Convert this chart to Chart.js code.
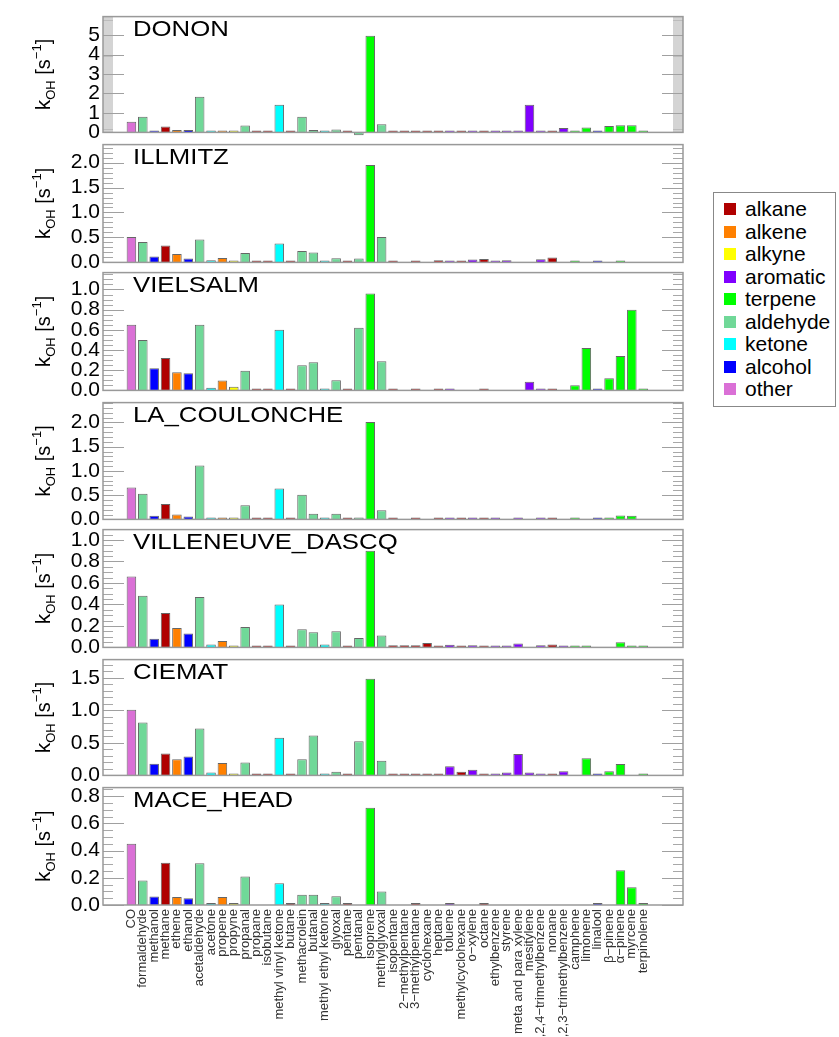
<!DOCTYPE html>
<html>
<head>
<meta charset="utf-8">
<script src="https://cdn.jsdelivr.net/npm/chart.js@4.4.1/dist/chart.umd.min.js"></script>
<style>
  body { margin: 0; background: #fff; width: 839px; height: 1037px; position: relative; overflow: hidden;
         font-family: "Liberation Sans", Arial, sans-serif; }
  canvas { position: absolute; left: 0; }
  #legend { position: absolute; left: 713px; top: 192px; width: 123px; height: 215px;
            border: 1px solid #888; box-sizing: border-box; padding-top: 5px; }
  .item { height: 22.5px; display: flex; align-items: center; font-size: 21px; color: #000; }
  .sw { width: 12px; height: 12px; margin: 0 9px 0 10px; }
</style>
</head>
<body>
<div id="legend"></div>
<script>
// species on the x axis
const categories = ["CO", "formaldehyde", "methanol", "methane", "ethene", "ethanol", "acetaldehyde",
  "acetone", "propene", "propyne", "propanal", "propane", "isobutane", "methyl vinyl ketone", "butane",
  "methacrolein", "butanal", "methyl ethyl ketone", "glyoxal", "pentane", "pentanal", "isoprene",
  "methylglyoxal", "isopentane", "2\u2212methylpentane", "3\u2212methylpentane", "cyclohexane", "heptane",
  "toluene", "methylcyclohexane", "o\u2212xylene", "octane", "ethylbenzene", "styrene",
  "meta and para xylene", "mesitylene", "1,2,4\u2212trimethylbenzene", "nonane",
  "1,2,3\u2212trimethylbenzene", "camphene", "limonene", "linalool", "\u03b2\u2212pinene",
  "\u03b1\u2212pinene", "myrcene", "terpinolene"];

const categoryGroup = ["other", "aldehyde", "alcohol", "alkane", "alkene", "alcohol", "aldehyde",
  "ketone", "alkene", "alkyne", "aldehyde", "alkane", "alkane", "ketone", "alkane",
  "aldehyde", "aldehyde", "ketone", "aldehyde", "alkane", "aldehyde", "terpene",
  "aldehyde", "alkane", "alkane", "alkane", "alkane", "alkane",
  "aromatic", "alkane", "aromatic", "alkane", "aromatic", "aromatic",
  "aromatic", "aromatic", "aromatic", "alkane",
  "aromatic", "terpene", "terpene", "alcohol", "terpene",
  "terpene", "terpene", "terpene"];

const groupNames = ["alkane", "alkene", "alkyne", "aromatic", "terpene", "aldehyde", "ketone", "alcohol", "other"];
const groupColors = ["#b00000", "#ff8000", "#ffff00", "#8000ff", "#00ff00", "#70d898", "#00ffff", "#0000ff", "#da70d6"];

const sites = ["DONON", "ILLMITZ", "VIELSALM", "LA_COULONCHE", "VILLENEUVE_DASCQ", "CIEMAT", "MACE_HEAD"];

// kOH [s-1] per species
const donon = [0.55, 0.80, 0.08, 0.30, 0.12, 0.12, 1.83, 0.03, 0.03, 0.02, 0.35, 0.01, 0.01, 1.42, 0.01,
  0.80, 0.12, 0.05, 0.15, 0.02, -0.15, 4.97, 0.42, 0.02, 0.02, 0.02, 0.02, 0.02, 0.02, 0.02, 0.02, 0.02,
  0.02, 0.02, 0.03, 1.42, 0.02, 0.02, 0.22, 0.02, 0.25, 0.01, 0.33, 0.37, 0.37, 0.02];
const illmitz = [0.51, 0.41, 0.12, 0.34, 0.17, 0.08, 0.46, 0.045, 0.09, 0.04, 0.19, 0.013, 0.013, 0.38, 0.013,
  0.23, 0.20, 0.03, 0.085, 0.03, 0.08, 1.95, 0.51, 0.01, null, 0.01, null, 0.045, 0.01, 0.01, 0.06, 0.07,
  0.01, 0.045, null, null, 0.065, 0.10, null, 0.02, null, 0.02, null, 0.01, null, null];
const vielsalm = [0.65, 0.50, 0.22, 0.32, 0.18, 0.17, 0.65, 0.026, 0.097, 0.036, 0.195, 0.006, 0.006, 0.60, 0.006,
  0.25, 0.28, 0.016, 0.10, 0.006, 0.62, 0.96, 0.29, 0.005, null, 0.006, null, 0.006, 0.006, null, null, 0.008,
  null, null, null, 0.085, 0.005, 0.006, null, 0.05, 0.42, 0.005, 0.12, 0.34, 0.80, 0.016];
const laCoulonche = [0.66, 0.53, 0.075, 0.32, 0.10, 0.06, 1.11, 0.027, 0.04, 0.027, 0.29, 0.02, 0.02, 0.64, 0.013,
  0.51, 0.115, 0.04, 0.115, 0.013, 0.005, 2.01, 0.19, 0.01, null, 0.01, null, 0.01, 0.01, 0.015, 0.01, 0.01,
  0.01, null, 0.01, null, 0.01, 0.01, null, 0.01, null, 0.01, 0.01, 0.08, 0.075, null];
const villeneuve = [0.66, 0.48, 0.08, 0.32, 0.18, 0.13, 0.47, 0.027, 0.06, 0.018, 0.19, 0.015, 0.015, 0.40, 0.015,
  0.17, 0.14, 0.027, 0.15, 0.015, 0.087, 0.90, 0.11, 0.02, 0.02, 0.02, 0.04, 0.015, 0.024, 0.018, 0.02, 0.018,
  0.015, 0.01, 0.036, null, 0.02, 0.027, 0.01, 0.01, 0.01, null, null, 0.048, 0.01, 0.01];
const ciemat = [1.01, 0.815, 0.18, 0.335, 0.25, 0.29, 0.72, 0.045, 0.19, 0.02, 0.20, 0.02, 0.025, 0.58, 0.025,
  0.25, 0.615, 0.025, 0.055, 0.02, 0.525, 1.485, 0.225, 0.025, 0.01, 0.025, 0.015, 0.015, 0.14, 0.055, 0.085, 0.02,
  0.03, 0.045, 0.33, 0.045, 0.02, 0.03, 0.065, null, 0.265, 0.025, 0.065, 0.175, null, 0.01];
const maceHead = [0.45, 0.18, 0.063, 0.31, 0.058, 0.05, 0.306, 0.014, 0.058, 0.007, 0.21, null, null, 0.16, 0.01,
  0.075, 0.075, 0.01, 0.065, 0.007, null, 0.715, 0.10, null, null, 0.01, null, null, 0.01, null, null, 0.007,
  null, null, null, null, null, null, null, null, null, 0.005, null, 0.255, 0.13, 0.01];

const siteValues = [donon, illmitz, vielsalm, laCoulonche, villeneuve, ciemat, maceHead];

// y axis per panel
const yMax = [5.95, 2.36, 1.167, 2.41, 1.097, 1.78, 0.863];
const yMajor = [1, 0.5, 0.2, 0.5, 0.2, 0.5, 0.2];
const yMinor = [0.05, 0.1, 0.05, 0.1, 0.05, 0.1, 0.05];
const yDecimals = [0, 1, 1, 1, 1, 1, 1];

// page layout: top / bottom of each plot frame
const frames = [[15, 134], [143, 264], [271, 392], [401, 521], [528, 649], [658, 777], [786, 905]];

Chart.defaults.font.family = '"Liberation Sans", Arial, sans-serif';

const barColors = categoryGroup.map(g => groupColors[groupNames.indexOf(g)]);

// frame, inner ticks, panel name and y title
const panelDeco = {
  id: 'panelDeco',
  afterDatasetsDraw(chart, args, opts) {
    const { ctx, chartArea: a } = chart;
    const y = chart.scales.y;
    ctx.save();
    ctx.lineWidth = 1;
    const n = Math.floor(y.max / opts.minor + 1e-6);
    const gap = Math.abs(y.getPixelForValue(0) - y.getPixelForValue(opts.minor));
    for (let k = 0; k <= n; k++) {
      const v = k * opts.minor;
      const py = Math.round(y.getPixelForValue(v)) + 0.5;
      const r = v / opts.major;
      const major = Math.abs(r - Math.round(r)) < 1e-6;
      const len = major ? 21 : 10;
      // very dense minor ticks blend into a light band
      ctx.strokeStyle = major ? '#a0a0a0' : (gap < 2 ? 'rgba(160,160,160,0.45)' : '#a8a8a8');
      ctx.beginPath();
      ctx.moveTo(a.left, py); ctx.lineTo(a.left + len, py);
      ctx.moveTo(a.right - len, py); ctx.lineTo(a.right, py);
      ctx.stroke();
    }
    ctx.strokeStyle = '#999';
    ctx.lineWidth = 1.5;
    ctx.strokeRect(a.left, a.top, a.right - a.left, a.bottom - a.top);

    // panel name
    ctx.fillStyle = '#000';
    ctx.font = '22px "Liberation Sans", Arial, sans-serif';
    ctx.textBaseline = 'alphabetic';
    ctx.save();
    ctx.translate(133, a.top + 19);
    ctx.scale(1.17, 1);
    ctx.fillText(opts.name, 0, 0);
    ctx.restore();

    // y title k_OH [s^-1]
    const parts = [['k', 21, 0], ['OH', 13, 5], [' [s', 20, 0], ['\u22121', 13, -9], [']', 20, 0]];
    let total = 0;
    parts.forEach(p => { ctx.font = p[1] + 'px "Liberation Sans", Arial, sans-serif'; total += ctx.measureText(p[0]).width; });
    ctx.save();
    ctx.translate(50, (a.top + a.bottom) / 2);
    ctx.rotate(-Math.PI / 2);
    let x = -total / 2;
    parts.forEach(p => {
      ctx.font = p[1] + 'px "Liberation Sans", Arial, sans-serif';
      ctx.fillText(p[0], x, p[2]);
      x += ctx.measureText(p[0]).width;
    });
    ctx.restore();
    ctx.restore();
  }
};

sites.forEach((site, p) => {
  const [top, bottom] = frames[p];
  const last = p === sites.length - 1;
  const canvasTop = top - 14;
  const h = last ? 1037 - canvasTop : bottom - top + 28;
  const cv = document.createElement('canvas');
  cv.width = 700;
  cv.height = h;
  cv.style.top = canvasTop + 'px';
  document.body.appendChild(cv);

  new Chart(cv, {
    type: 'bar',
    data: {
      datasets: [{
        data: siteValues[p].map((v, i) => ({ x: i, y: v })),
        backgroundColor: barColors,
        borderColor: '#666',
        borderWidth: 1,
        minBarLength: 2,
        barPercentage: 0.84,
        categoryPercentage: 1,
        clip: false
      }]
    },
    options: {
      responsive: false,
      animation: false,
      devicePixelRatio: 1,
      layout: { padding: { top: 14, right: 17, bottom: last ? 0 : 14, left: 0 } },
      plugins: {
        legend: { display: false },
        tooltip: { enabled: false },
        panelDeco: { name: site, major: yMajor[p], minor: yMinor[p] }
      },
      scales: {
        x: {
          type: 'linear',
          min: -2,
          max: 48,
          display: last,
          grid: { display: false, drawTicks: false },
          border: { display: false },
          afterFit: s => { if (last) s.height = h - 14 - (bottom - top); },
          ticks: {
            stepSize: 1,
            autoSkip: false,
            maxTicksLimit: 100,
            includeBounds: false,
            minRotation: 90,
            maxRotation: 90,
            padding: 4,
            color: '#333',
            font: { size: 13 },
            callback: v => {
              const i = Math.round(v);
              return Math.abs(v - i) < 1e-6 && i >= 0 && i < categories.length ? categories[i] : '';
            }
          }
        },
        y: {
          min: 0,
          max: yMax[p],
          grid: { display: false, drawTicks: false },
          border: { display: false },
          afterFit: s => { s.width = 103; },
          ticks: {
            stepSize: yMajor[p],
            autoSkip: false,
            includeBounds: false,
            padding: 3,
            color: '#000',
            font: { size: 21 },
            callback: v => Number(v).toFixed(yDecimals[p])
          }
        }
      }
    },
    plugins: [panelDeco]
  });
});

// legend box
const legend = document.getElementById('legend');
groupNames.forEach((g, i) => {
  const row = document.createElement('div');
  row.className = 'item';
  const sw = document.createElement('span');
  sw.className = 'sw';
  sw.style.background = groupColors[i];
  row.appendChild(sw);
  row.appendChild(document.createTextNode(g));
  legend.appendChild(row);
});
</script>
</body>
</html>
